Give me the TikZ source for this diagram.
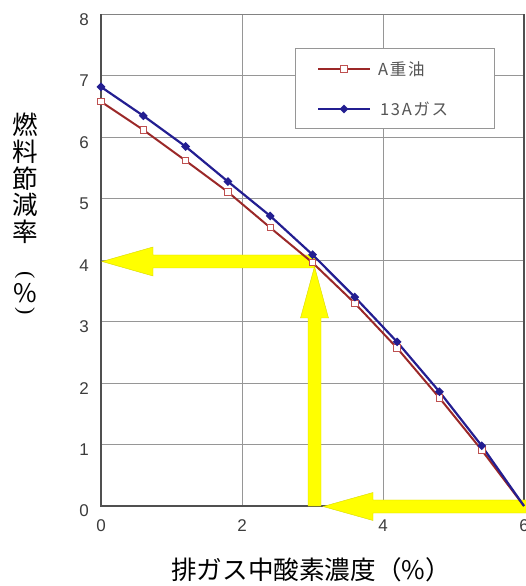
\documentclass[tikz,border=0pt]{standalone}
\usepackage{fontspec}
\setmainfont{Liberation Sans}
\newfontfamily\jp{Noto Sans CJK JP}
\newfontfamily\jplegend[LetterSpace=10]{Noto Sans CJK JP}
\newfontfamily\serifparen{Liberation Serif}
\usetikzlibrary{shapes.geometric}
\definecolor{oilred}{RGB}{155,40,40}
\definecolor{oilmarkc}{RGB}{190,80,80}
\definecolor{gasblue}{RGB}{35,30,145}
\definecolor{gridgray}{RGB}{150,150,150}
\definecolor{axisgray}{RGB}{80,80,80}
\definecolor{framegray}{RGB}{130,130,130}
\definecolor{arrowyellow}{RGB}{255,255,0}
\definecolor{arrowedge}{RGB}{215,215,0}
\definecolor{ticktext}{RGB}{60,60,60}
\definecolor{legtext}{RGB}{85,85,85}
\begin{document}
\begin{tikzpicture}[x=70.5pt,y=61.45pt,
  gridline/.style={draw=gridgray, line width=0.9pt},
  axisline/.style={draw=axisgray, line width=1.8pt},
  frameline/.style={draw=framegray, line width=1.6pt},
  oil/.style={draw=oilred, line width=2pt, line join=round},
  gas/.style={draw=gasblue, line width=2.2pt, line join=round},
  oilmark/.style={draw=oilmarkc, fill=white, line width=0.9pt, minimum size=6.5pt, inner sep=0pt, shape=rectangle},
  gasmark/.style={fill=gasblue, draw=none, minimum size=9pt, inner sep=0pt, shape=diamond},
  yarrow/.style={fill=arrowyellow, draw=arrowedge, line width=0.4pt},
  ticklab/.style={font=\fontsize{17}{17}\selectfont, text=ticktext, inner sep=0pt},
  axistitle/.style={font=\jp\fontsize{25.6}{25.6}\selectfont, text=black, inner sep=0pt},
  vparen/.style={font=\serifparen\fontsize{22}{22}\selectfont, text=black, inner sep=0pt, rotate=-90},
  legtxt/.style={font=\jplegend\fontsize{16.5}{16.5}\selectfont, text=legtext, inner sep=0pt, anchor=west},
  legbox/.style={draw=gridgray, fill=white, line width=0.9pt}
]
\useasboundingbox (-101pt,-80pt) rectangle (425pt,506pt);
% grid
\foreach \gx in {2,4} \draw[gridline] (\gx,0) -- (\gx,8);
\foreach \gy in {1,...,7} \draw[gridline] (0,\gy) -- (6,\gy);
\draw[frameline] (0,8) -- (6,8);
\draw[axisline] (6,0) -- (6,8);
\draw[axisline] (0,8) -- (0,0) -- (6,0);
% tick labels
\foreach \t in {0,...,8} \node[ticklab] (yt\t) at (-17pt,{\t*61.45pt-5pt}) {\t};
\foreach \t in {0,2,4,6} \node[ticklab] (xt\t) at ({\t*70.5pt},-20pt) {\t};
% yellow arrows
\fill[yarrow] (1pt,244.5pt) -- (52pt,259pt) -- (52pt,251pt) -- (214pt,251pt) -- (214pt,238pt) -- (52pt,238pt) -- (52pt,230pt) -- cycle;
\fill[yarrow] (213.5pt,239.5pt) -- (227.5pt,188pt) -- (220pt,188pt) -- (220pt,0pt) -- (207pt,0pt) -- (207pt,188pt) -- (199.5pt,188pt) -- cycle;
\fill[yarrow] (222pt,-0.5pt) -- (272pt,13.5pt) -- (272pt,6pt) -- (427pt,6pt) -- (427pt,-7pt) -- (272pt,-7pt) -- (272pt,-14.5pt) -- cycle;
% data
\draw[oil] plot coordinates {(0,6.58) (0.6,6.12) (1.2,5.62) (1.8,5.11) (2.4,4.53) (3.0,3.96) (3.6,3.3) (4.2,2.57) (4.8,1.76) (5.4,0.91) (6,0)};
\draw[gas] plot coordinates {(0,6.82) (0.6,6.35) (1.2,5.85) (1.8,5.28) (2.4,4.72) (3.0,4.09) (3.6,3.4) (4.2,2.67) (4.8,1.86) (5.4,0.98) (6,0)};
\foreach \px/\py [count=\i] in {0/6.58,0.6/6.12,1.2/5.62,1.8/5.11,2.4/4.53,3.0/3.96,3.6/3.3,4.2/2.57,4.8/1.76,5.4/0.91}
  \node[oilmark] (om\i) at (\px,\py) {};
\foreach \px/\py [count=\i] in {0/6.82,0.6/6.35,1.2/5.85,1.8/5.28,2.4/4.72,3.0/4.09,3.6/3.4,4.2/2.67,4.8/1.86,5.4/0.98}
  \node[gasmark] (gm\i) at (\px,\py) {};
% legend
\draw[legbox] (194pt,378pt) rectangle (393pt,458pt);
\draw[oil] (217pt,437pt) -- (269pt,437pt);
\node[oilmark] (lom) at (243pt,437pt) {};
\node[legtxt] (l1) at (277pt,437pt) {A重油};
\draw[gas] (217pt,397pt) -- (269pt,397pt);
\node[gasmark] (lgm) at (243pt,397pt) {};
\node[legtxt] (l2) at (279pt,397pt) {13Aガス};
% axis titles
\node[axistitle] (xtitle) at (210pt,-64pt) {排ガス中酸素濃度（\%）};
\node[axistitle] (yc1) at (-76pt,381pt) {燃};
\node[axistitle] (yc2) at (-76pt,354pt) {料};
\node[axistitle] (yc3) at (-76pt,327pt) {節};
\node[axistitle] (yc4) at (-76pt,301pt) {減};
\node[axistitle] (yc5) at (-76pt,274pt) {率};
\node[vparen] (yp1) at (-76pt,231pt) {(};
\node[axistitle] (yp2) at (-76pt,213pt) {\%};
\node[vparen] (yp3) at (-76pt,195pt) {)};
\end{tikzpicture}
\end{document}
